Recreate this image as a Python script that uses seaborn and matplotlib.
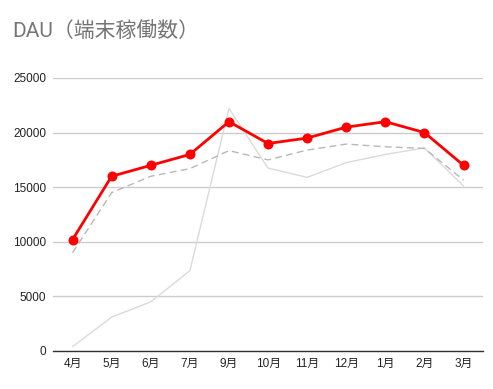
import numpy as np
import pandas as pd
import matplotlib
matplotlib.use('Agg')
import matplotlib.pyplot as plt
import seaborn as sns

months = ['4月', '5月', '6月', '7月', '9月', '10月', '11月', '12月', '1月', '2月', '3月']
dau_main = [10200, 16000, 17000, 18000, 21000, 19000, 19500, 20500, 21000, 20000, 17000]
dau_dashed = [9000, 14500, 16000, 16700, 18350, 17500, 18400, 18950, 18700, 18550, 15650]
dau_light = [400, 3100, 4500, 7350, 22200, 16750, 15900, 17250, 18000, 18600, 15100]

sns.set_theme(style='white')
plt.rcParams['font.family'] = ['Liberation Sans', 'Noto Sans CJK JP', 'DejaVu Sans']

df = pd.DataFrame({'month': months, 'main': dau_main, 'dashed': dau_dashed, 'light': dau_light})

fig = plt.figure(figsize=(4.93, 3.89), dpi=100)
ax = fig.add_axes([0.1075, 0.0977, 0.8725, 0.7018])

sns.lineplot(data=df, x='month', y='light', sort=False, ax=ax, color='#dadada', linewidth=1)
sns.lineplot(data=df, x='month', y='dashed', sort=False, ax=ax, color='#b8b8b8', linewidth=1,
             linestyle=(0, (5, 3)))
sns.lineplot(data=df, x='month', y='main', sort=False, ax=ax, color='#ff0000', linewidth=2,
             marker='o', markersize=7.2, markeredgewidth=0)

ax.set_xlim(-0.5, len(months) - 0.5)
ax.set_ylim(0, 25000)
ax.set_yticks(np.arange(0, 25001, 5000))
ax.set_yticklabels([str(v) for v in range(0, 25001, 5000)])
ax.grid(axis='y', color='#cccccc', linewidth=1)
ax.set_axisbelow(True)
for s in ['top', 'right', 'left']:
    ax.spines[s].set_visible(False)
ax.spines['bottom'].set_color('#333333')
ax.spines['bottom'].set_linewidth(1)
ax.tick_params(axis='both', length=0, labelsize=8.5, colors='#222222', pad=5)
ax.set_xlabel('')
ax.set_ylabel('')

fig.text(0.025, 0.918, 'DAU（端末稼働数）', fontsize=15, color='#757575', ha='left', va='center',
         family=['Roboto', 'Noto Sans CJK JP'])

fig.savefig('out.png', dpi=100)
